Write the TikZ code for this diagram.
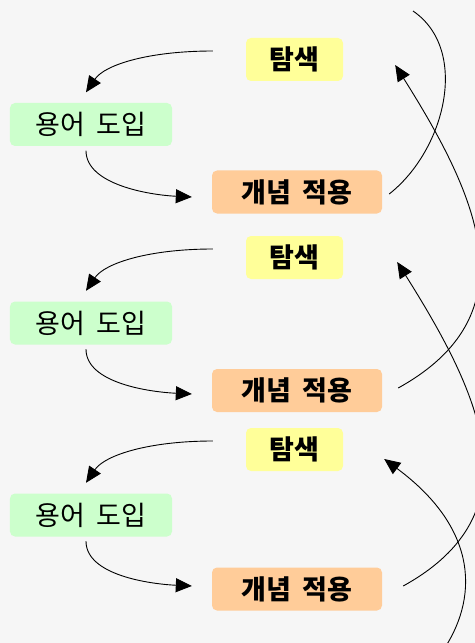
\documentclass[tikz,border=0pt]{standalone}
\usepackage{fontspec}
\newfontfamily\kr{Noto Sans CJK KR}
\usetikzlibrary{arrows.meta,calc}
\definecolor{bgc}{HTML}{F6F6F6}
\definecolor{tamc}{HTML}{FFFF99}
\definecolor{yongc}{HTML}{CCFFCC}
\definecolor{gaec}{HTML}{FFCC99}
\newcommand{\wsp}{\hspace{12bp}}
\tikzset{
  box/.style={rounded corners=5bp, inner sep=0pt, minimum height=43bp, font=\kr\fontsize{27bp}{30bp}\selectfont, text=black},
  tambox/.style={box, fill=tamc, minimum width=97bp, font=\kr\bfseries\fontsize{27bp}{30bp}\selectfont},
  yongbox/.style={box, fill=yongc, minimum width=162bp},
  gaebox/.style={box, fill=gaec, minimum width=170bp, font=\kr\bfseries\fontsize{27bp}{30bp}\selectfont},
  conn/.style={draw=black, line width=0.9bp, -{Triangle[length=16bp,width=14bp]}},
  plainconn/.style={draw=black, line width=0.9bp}
}
\begin{document}
\begin{tikzpicture}[x=1bp,y=-1bp]
\fill[bgc] (0,0) rectangle (475,643);
\useasboundingbox (0,0) rectangle (475,643);
\clip (0,0) rectangle (475,643);
% block 1
\node[tambox]  (tam1)  at (294.5,59.5) {탐색};
\node[yongbox] (yong1) at (91,124.5)   {용어\wsp 도입};
\node[gaebox]  (gae1)  at (297,192)    {개념\wsp 적용};
% block 2
\node[tambox]  (tam2)  at (294.5,257.5) {탐색};
\node[yongbox] (yong2) at (91,323)      {용어\wsp 도입};
\node[gaebox]  (gae2)  at (297,390.5)   {개념\wsp 적용};
% block 3
\node[tambox]  (tam3)  at (294.5,449.5) {탐색};
\node[yongbox] (yong3) at (91,515)      {용어\wsp 도입};
\node[gaebox]  (gae3)  at (297,589)     {개념\wsp 적용};
% free ends
\coordinate (topend) at (413,11);
\coordinate (botstart) at (442,652);
% in-block connectors
\foreach \i/\gy in {1/5,2/3.5,3/-3}{
  \draw[conn] ($(tam\i.west)+(-33,-8.5)$) .. controls +(-63,0) and +(19,-28) .. ($(yong\i.north)+(-5,-10.5)$);
  \draw[conn] ($(yong\i.south)+(-5,4.5)$) .. controls +(0,34) and +(-42,-2) .. ($(gae\i.west)+(-20,\gy)$);
}
% cross-block connectors
\draw[plainconn] ($(gae1.east)+(7,2)$) .. controls +(56,-44) and +(57,39) .. (topend);
\draw[conn] ($(gae2.east)+(16,-2.5)$) .. controls +(132,-73) and +(85,135) .. ($(tam1.east)+(52,5.5)$);
\draw[conn] ($(gae3.east)+(21,-3)$) .. controls +(132,-73) and +(85,135) .. ($(tam2.east)+(54,4.5)$);
\draw[conn] (botstart) .. controls (478,600) and (480,530) .. ($(tam3.east)+(41,9.5)$);
\end{tikzpicture}
\end{document}
